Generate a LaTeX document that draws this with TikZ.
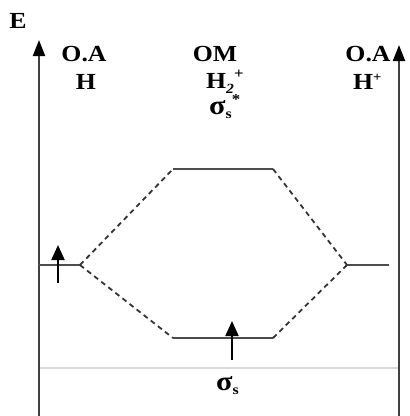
\documentclass[tikz,border=0pt]{standalone}
\usepackage{fontspec}
\setmainfont[FakeStretch=1.12]{Liberation Serif}
\usetikzlibrary{arrows.meta}
\begin{document}
\begin{tikzpicture}[x=1pt,y=-1pt,
  lbl/.style={font=\fontsize{23}{26}\selectfont\bfseries, inner sep=0pt},
  sig/.style={font=\fontsize{27}{28}\selectfont\bfseries, inner sep=0pt},
  axis/.style={draw=black!75, line width=2pt, -{Triangle[length=16pt,width=12pt,fill=black,color=black]}},
  level/.style={draw=black!70, line width=2.2pt},
  corr/.style={draw=black!80, line width=1.8pt, dash pattern=on 5pt off 4pt},
  spin/.style={draw=black, line width=2pt, -{Triangle[length=15pt,width=13pt]}},
  base/.style={draw=black!15, line width=1.2pt}]
\useasboundingbox (0,0) rectangle (410,416);
% axes
\coordinate (aLb) at (39,416); \coordinate (aLt) at (39,40);
\coordinate (aRb) at (399,416); \coordinate (aRt) at (399,45);
\draw[base] (39,368) coordinate (g1) -- (399,368) coordinate (g2);
\draw[axis] (aLb) -- (aLt);
\draw[axis] (aRb) -- (aRt);
% levels
\coordinate (L1) at (38,265); \coordinate (L2) at (80,265);
\coordinate (R1) at (347,265); \coordinate (R2) at (389,265);
\coordinate (U1) at (173,169); \coordinate (U2) at (273,169);
\coordinate (D1) at (173,338); \coordinate (D2) at (273,338);
\draw[level] (L1) -- (L2);
\draw[level] (R1) -- (R2);
\draw[level] (U1) -- (U2);
\draw[level] (D1) -- (D2);
\draw[corr] (L2) -- (U1);
\draw[corr] (L2) -- (D1);
\draw[corr] (U2) -- (R1);
\draw[corr] (D2) -- (R1);
% spins
\coordinate (s1a) at (58,283); \coordinate (s1b) at (58,245);
\coordinate (s2a) at (232,360); \coordinate (s2b) at (232,321);
\draw[spin] (s1a) -- (s1b);
\draw[spin] (s2a) -- (s2b);
% labels
\node[lbl] (E) at (18,21) {E};
\node[lbl] (oa1) at (84,54) {O.A};
\node[lbl] (h1) at (86,82) {H};
\node[lbl] (om) at (215,54) {OM};
\node[lbl, anchor=west] (h2) at (206,82) {H\raisebox{-5pt}{\fontsize{14}{14}\selectfont\itshape 2}\raisebox{10pt}{\fontsize{15}{15}\selectfont +}};
\node[sig, anchor=west] (ss) at (209,107) {σ\raisebox{-4pt}{\fontsize{14}{14}\selectfont s}\raisebox{10pt}{\fontsize{15}{15}\selectfont *}};
\node[lbl] (oa2) at (368,54) {O.A};
\node[lbl, anchor=west] (h3) at (353,82) {H\raisebox{8pt}{\fontsize{13}{13}\selectfont +}};
\node[sig, anchor=west] (sb) at (216,386) {σ\raisebox{-4pt}{\fontsize{14}{14}\selectfont s}};
\end{tikzpicture}
\end{document}
